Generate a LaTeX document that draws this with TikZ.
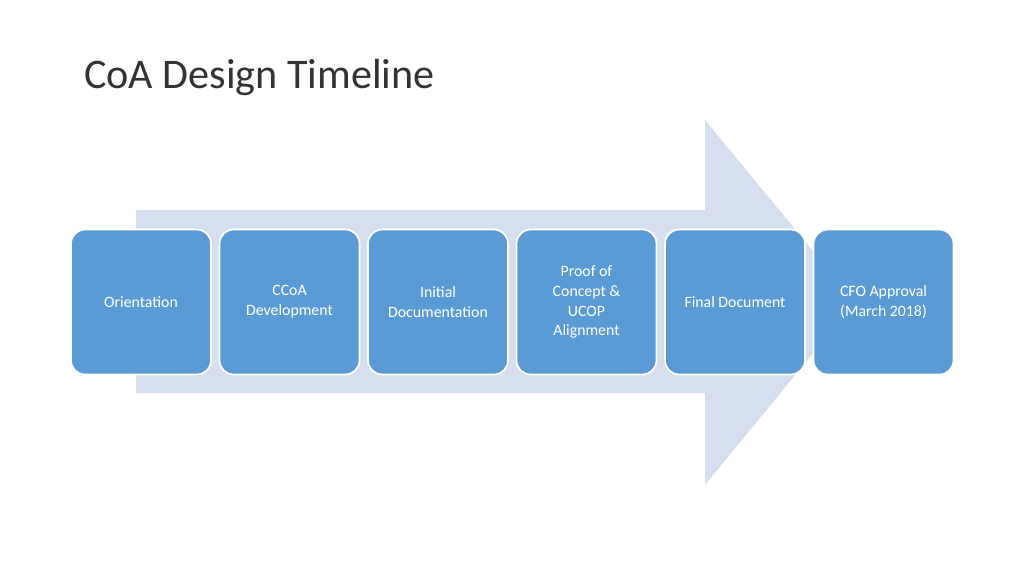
\documentclass[tikz,border=0pt]{standalone}
\usepackage{fontspec}
\setmainfont{Carlito}
\begin{document}
\begin{tikzpicture}[x=0.02cm,y=-0.02cm,
  stage/.style={draw=white,line width=1pt,fill=boxblue,rounded corners=8pt,minimum width=140*0.02cm,minimum height=145*0.02cm,text=white,align=center,font=\fontsize{9}{11.3}\selectfont,inner sep=2pt}]
\definecolor{boxblue}{HTML}{5B9BD5}
\definecolor{arrowblue}{HTML}{D6DFEF}
\useasboundingbox (0,0) rectangle (1024,576);
\node[anchor=base west,font=\fontsize{24}{28}\selectfont,text=black!80] (title) at (78,88) {CoA Design Timeline};
\fill[arrowblue] (136,210) -- (705,210) -- (705,120) -- (855,302) -- (705,485) -- (705,393) -- (136,393) -- cycle;
\node[stage] (s1) at (141,302) {Orientation};
\node[stage] (s2) at (289.5,302) {CCoA\\Development};
\node[stage] (s3) at (438,302) {Initial\\Documentation};
\node[stage] (s4) at (586.5,302) {Proof of\\Concept \&\\UCOP\\Alignment};
\node[stage] (s5) at (735,302) {Final Document};
\node[stage] (s6) at (883.5,302) {CFO Approval\\(March 2018)};
\end{tikzpicture}
\end{document}
